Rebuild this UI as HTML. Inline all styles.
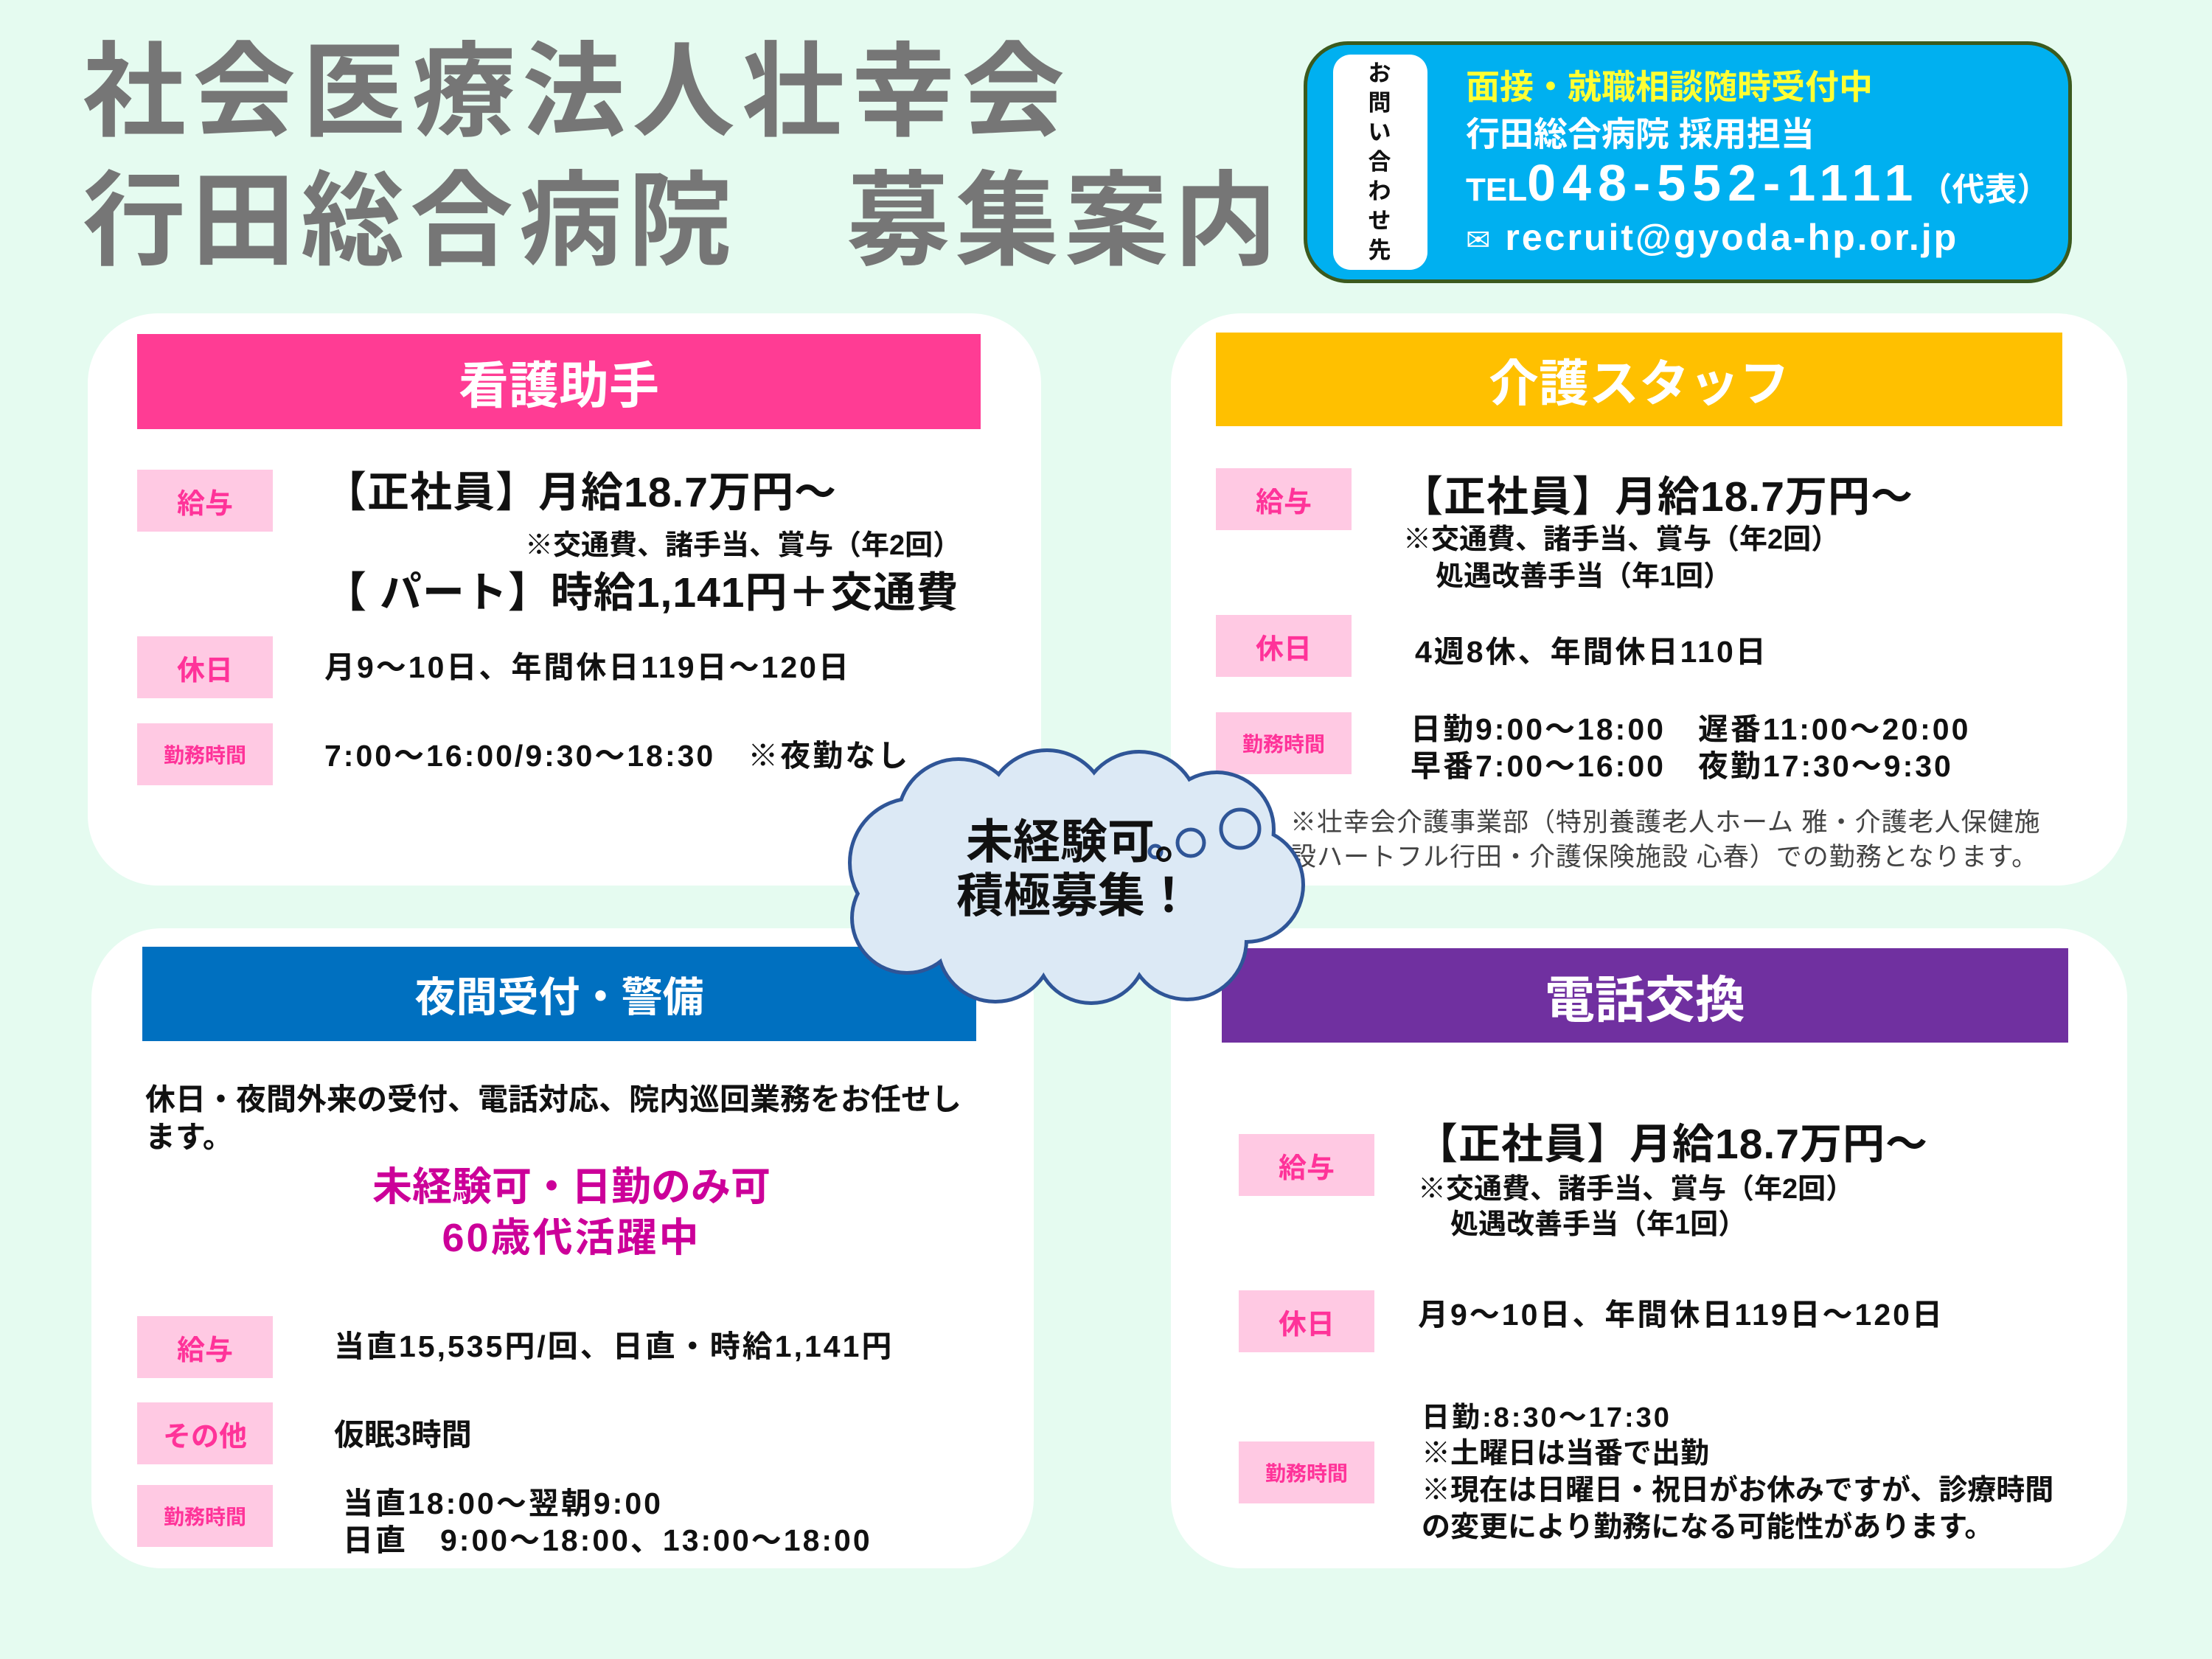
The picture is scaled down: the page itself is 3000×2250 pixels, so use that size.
<!DOCTYPE html>
<html><head><meta charset="utf-8">
<style>
*{margin:0;padding:0;box-sizing:border-box}
body{width:3000px;height:2250px;background:#e5fbf0;position:relative;overflow:hidden;font-family:"Liberation Sans","Noto Sans CJK JP",sans-serif;font-weight:bold;color:#111}
.a{position:absolute;white-space:nowrap}
.card{position:absolute;background:#fff;border-radius:95px}
.hd{position:absolute;color:#fff;text-align:center;font-size:68px;display:flex;align-items:center;justify-content:center}
.lb{position:absolute;width:184px;height:84px;background:#ffc9e3;color:#ff3399;font-size:38px;display:flex;align-items:center;justify-content:center}
.lb.s{font-size:28px}
.big{font-size:57px;line-height:64px;letter-spacing:1px}
.m{font-size:41px;line-height:48px}
.d{letter-spacing:3px}
.note{font-size:35px;line-height:46px;color:#444;font-weight:normal;letter-spacing:1px}
</style></head><body>

<div class="a" style="left:112px;top:50px;font-size:140px;line-height:150px;letter-spacing:9px;color:#767676">社会医療法人壮幸会</div>
<div class="a" style="left:112px;top:225px;font-size:140px;line-height:150px;letter-spacing:8px;color:#767676">行田総合病院　募集案内</div>

<div class="a" style="left:1768px;top:56px;width:1042px;height:328px;background:#00b0f0;border:5px solid #3b5a1e;border-radius:60px"></div>
<div class="a" style="left:1808px;top:74px;width:128px;height:292px;background:#fff;border-radius:24px"></div>
<div class="a" style="left:1853px;top:80px;width:36px;font-size:31px;line-height:40px;white-space:normal;text-align:center;color:#111">お問い合わせ先</div>
<div class="a" style="left:1988px;top:90px;font-size:46px;line-height:56px;color:#ffff33">面接・就職相談随時受付中</div>
<div class="a" style="left:1988px;top:154px;font-size:46px;line-height:56px;color:#fff">行田総合病院 採用担当</div>
<div class="a" style="left:1988px;top:208px;font-size:70px;line-height:80px;color:#fff"><span style="font-size:44px">TEL</span><span style="letter-spacing:9px">048-552-1111</span><span style="font-size:44px">（代表）</span></div>
<div class="a" style="left:1988px;top:292px;font-size:50px;line-height:60px;color:#fff;letter-spacing:3px"><span style="font-size:40px;font-weight:normal">✉</span> recruit@gyoda-hp.or.jp</div>

<div class="card" style="left:119px;top:425px;width:1293px;height:776px"></div>
<div class="card" style="left:1588px;top:425px;width:1297px;height:776px"></div>
<div class="card" style="left:124px;top:1259px;width:1278px;height:868px"></div>
<div class="card" style="left:1588px;top:1259px;width:1297px;height:868px"></div>

<div class="hd" style="left:186px;top:453px;width:1144px;height:129px;background:#ff3c94">看護助手</div>
<div class="hd" style="left:1649px;top:451px;width:1148px;height:127px;background:#ffc000">介護スタッフ</div>
<div class="hd" style="left:193px;top:1284px;width:1131px;height:128px;background:#0070c0;font-size:56px">夜間受付・警備</div>
<div class="hd" style="left:1657px;top:1286px;width:1148px;height:128px;background:#7030a0">電話交換</div>

<div class="lb" style="left:186px;top:637px">給与</div>
<div class="a big" style="left:440px;top:636px">【正社員】月給18.7万円～</div>
<div class="a m" style="left:712px;top:716px;font-size:38px">※交通費、諸手当、賞与（年2回）</div>
<div class="a big" style="left:440px;top:772px">【 パート】時給1,141円＋交通費</div>
<div class="lb" style="left:186px;top:863px">休日</div>
<div class="a m d" style="left:440px;top:881px">月9～10日、年間休日119日～120日</div>
<div class="lb s" style="left:186px;top:981px">勤務時間</div>
<div class="a m d" style="left:440px;top:1001px">7:00～16:00/9:30～18:30　※夜勤なし</div>

<div class="lb" style="left:1649px;top:635px">給与</div>
<div class="a big" style="left:1900px;top:642px">【正社員】月給18.7万円～</div>
<div class="a m" style="left:1903px;top:708px;font-size:38px">※交通費、諸手当、賞与（年2回）</div>
<div class="a m" style="left:1947px;top:758px;font-size:38px">処遇改善手当（年1回）</div>
<div class="lb" style="left:1649px;top:834px">休日</div>
<div class="a m d" style="left:1919px;top:860px">4週8休、年間休日110日</div>
<div class="lb s" style="left:1649px;top:966px">勤務時間</div>
<div class="a m d" style="left:1913px;top:965px">日勤9:00～18:00　遅番11:00～20:00</div>
<div class="a m d" style="left:1913px;top:1015px">早番7:00～16:00　夜勤17:30～9:30</div>
<div class="a note" style="left:1750px;top:1093px">※壮幸会介護事業部（特別養護老人ホーム 雅・介護老人保健施</div>
<div class="a note" style="left:1750px;top:1140px">設ハートフル行田・介護保険施設 心春）での勤務となります。</div>

<div class="a m" style="left:197px;top:1467px">休日・夜間外来の受付、電話対応、院内巡回業務をお任せし</div>
<div class="a m" style="left:197px;top:1518px">ます。</div>
<div class="a" style="left:400px;width:750px;text-align:center;top:1577px;font-size:54px;line-height:66px;color:#cc0099">未経験可・日勤のみ可</div>
<div class="a" style="left:400px;width:750px;text-align:center;top:1646px;font-size:54px;line-height:66px;color:#cc0099;letter-spacing:3px">60歳代活躍中</div>
<div class="lb" style="left:186px;top:1785px">給与</div>
<div class="a m d" style="left:453px;top:1802px">当直15,535円/回、日直・時給1,141円</div>
<div class="lb" style="left:186px;top:1902px">その他</div>
<div class="a m" style="left:453px;top:1922px">仮眠3時間</div>
<div class="lb s" style="left:186px;top:2014px">勤務時間</div>
<div class="a m d" style="left:465px;top:2015px">当直18:00～翌朝9:00</div>
<div class="a m d" style="left:465px;top:2065px">日直　9:00～18:00、13:00～18:00</div>

<div class="lb" style="left:1680px;top:1538px">給与</div>
<div class="a big" style="left:1920px;top:1520px">【正社員】月給18.7万円～</div>
<div class="a m" style="left:1923px;top:1589px;font-size:38px">※交通費、諸手当、賞与（年2回）</div>
<div class="a m" style="left:1967px;top:1637px;font-size:38px">処遇改善手当（年1回）</div>
<div class="lb" style="left:1680px;top:1750px">休日</div>
<div class="a m d" style="left:1923px;top:1759px">月9～10日、年間休日119日～120日</div>
<div class="lb s" style="left:1680px;top:1955px">勤務時間</div>
<div class="a m d" style="left:1928px;top:1899px;font-size:38px">日勤:8:30～17:30</div>
<div class="a m" style="left:1928px;top:1948px;font-size:39px">※土曜日は当番で出勤</div>
<div class="a m" style="left:1928px;top:1998px;font-size:39px">※現在は日曜日・祝日がお休みですが、診療時間</div>
<div class="a m" style="left:1928px;top:2048px;font-size:39px">の変更により勤務になる可能性があります。</div>

<svg class="a" style="left:0;top:0" width="3000" height="2250">
<g fill="#dce9f5" stroke="#2f5597" stroke-width="10">
<circle cx="1240" cy="1170" r="85"/><circle cx="1300" cy="1112" r="80"/><circle cx="1420" cy="1100" r="80"/>
<circle cx="1545" cy="1100" r="78"/><circle cx="1650" cy="1125" r="75"/><circle cx="1690" cy="1200" r="75"/>
<circle cx="1610" cy="1275" r="78"/><circle cx="1480" cy="1285" r="73"/><circle cx="1350" cy="1280" r="76"/>
<circle cx="1230" cy="1245" r="72"/><circle cx="1330" cy="1190" r="110"/><circle cx="1530" cy="1190" r="110"/>
</g>
<g fill="#dce9f5">
<circle cx="1240" cy="1170" r="85"/><circle cx="1300" cy="1112" r="80"/><circle cx="1420" cy="1100" r="80"/>
<circle cx="1545" cy="1100" r="78"/><circle cx="1650" cy="1125" r="75"/><circle cx="1690" cy="1200" r="75"/>
<circle cx="1610" cy="1275" r="78"/><circle cx="1480" cy="1285" r="73"/><circle cx="1350" cy="1280" r="76"/>
<circle cx="1230" cy="1245" r="72"/><circle cx="1330" cy="1190" r="110"/><circle cx="1530" cy="1190" r="110"/>
</g>
<g fill="none" stroke="#2f5597" stroke-width="5">
<circle cx="1567" cy="1155" r="8"/><circle cx="1615" cy="1143" r="18"/><circle cx="1682" cy="1124" r="26"/>
</g>
</svg>
<div class="a" style="left:1310px;top:1105px;font-size:64px;line-height:74px;color:#111">未経験可。</div>
<div class="a" style="left:1297px;top:1178px;font-size:64px;line-height:74px;color:#111">積極募集！</div>
</body></html>
